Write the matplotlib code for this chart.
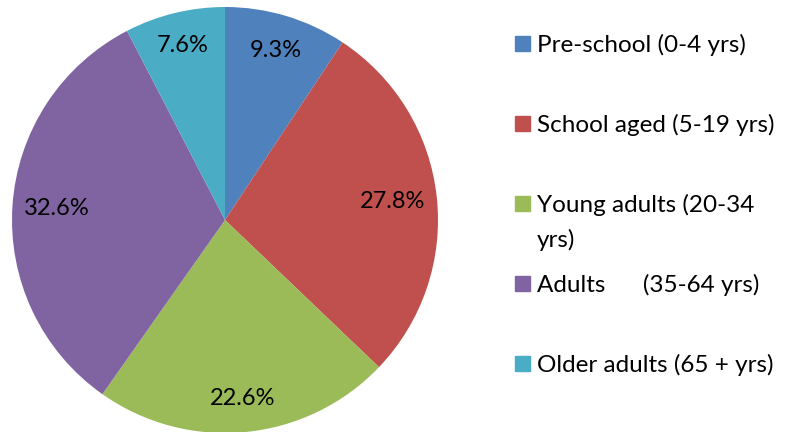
import numpy as np
import matplotlib.pyplot as plt
from matplotlib.patches import Rectangle

# data
labels = ["Pre-school (0-4 yrs)", "School aged (5-19 yrs)",
          "Young adults (20-34\nyrs)", "Adults      (35-64 yrs)",
          "Older adults (65 + yrs)"]
shares = [9.3, 27.8, 22.6, 32.6, 7.6]
colors = ["#4F81BD", "#C0504D", "#9BBB59", "#8064A2", "#4BACC6"]
label_dist = [0.83, 0.79, 0.84, 0.79, 0.845]

plt.rcParams['font.family'] = ['Lato', 'DejaVu Sans']

fig = plt.figure(figsize=(7.87, 4.32), dpi=100)
W, H = 787, 432

# pie axes: centre (225, 220), radius 213 px
cx, cy, r = 225, 220, 213
ax = fig.add_axes([(cx - r) / W, (H - cy - r) / H, 2 * r / W, 2 * r / H])
wedges, _, autotexts = ax.pie(shares, colors=colors, startangle=90,
                              counterclock=False, autopct='%1.1f%%',
                              pctdistance=0.8,
                              textprops={'fontsize': 17, 'color': 'black'})
# excel-like label placement: distance per slice
for w, t, d in zip(wedges, autotexts, label_dist):
    mid = np.deg2rad((w.theta1 + w.theta2) / 2)
    t.set_position((d * np.cos(mid), d * np.sin(mid)))
ax.set_xlim(-1, 1)
ax.set_ylim(-1, 1)
ax.set_aspect('equal')
ax.axis('off')

# legend, drawn by hand to match the wrapped entry
for i, (lab, col) in enumerate(zip(labels, colors)):
    base = 52 + 80 * i
    fig.add_artist(Rectangle((515 / W, 1 - (base - 1) / H), 15 / W, 15 / H,
                             transform=fig.transFigure, color=col))
    top_line = lab.split("\n")
    fig.text(537 / W, 1 - base / H, top_line[0], fontsize=17.5,
             va='baseline', ha='left')
    if len(top_line) > 1:
        fig.text(537 / W, 1 - (base + 35) / H, top_line[1], fontsize=17.5,
                 va='baseline', ha='left')

fig.savefig("out.png", dpi=100)
